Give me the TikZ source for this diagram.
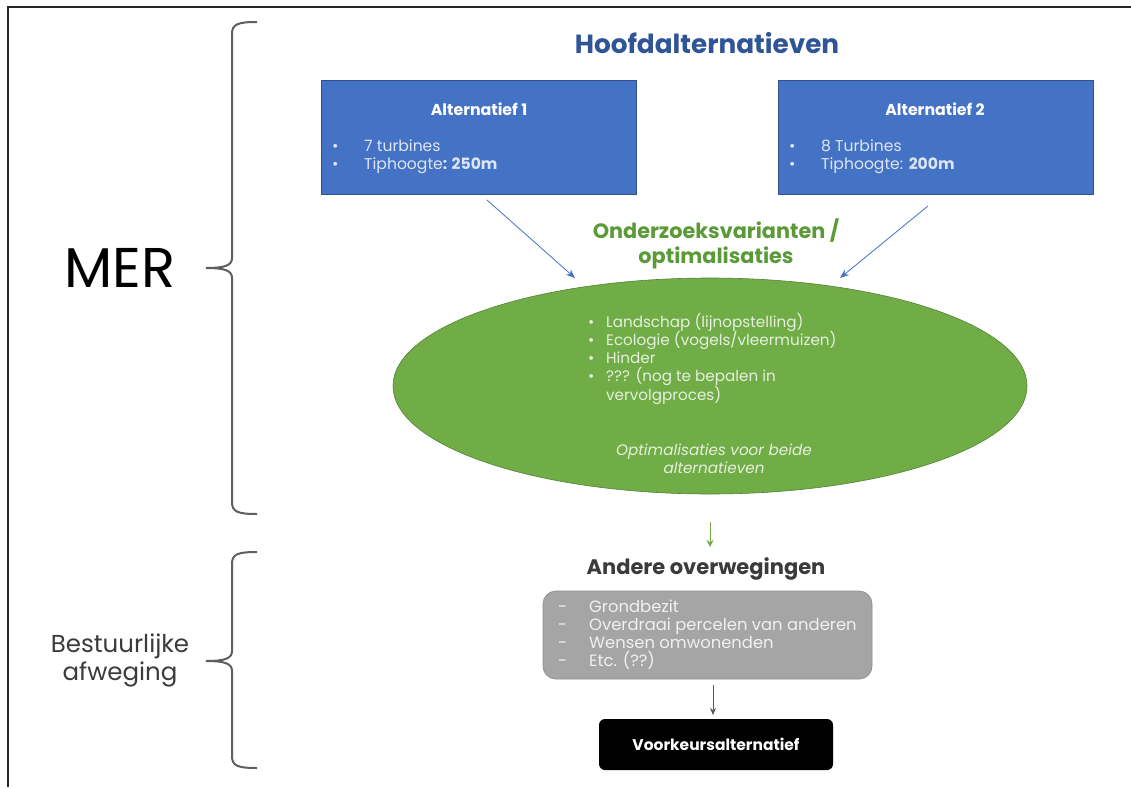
\documentclass[tikz,border=0pt]{standalone}
\usepackage{fontspec}
\setmainfont{Poppins}
\usetikzlibrary{arrows.meta,shapes.geometric}
\definecolor{boxblue}{HTML}{4472C4}
\definecolor{boxblueedge}{HTML}{2F528F}
\definecolor{titleblue}{HTML}{2F5597}
\definecolor{greenfill}{HTML}{70AD47}
\definecolor{greenedge}{HTML}{548235}
\definecolor{greentitle}{HTML}{5A9A37}
\definecolor{grayfill}{HTML}{A5A5A5}
\definecolor{grayedge}{HTML}{8F8F8F}
\definecolor{darktext}{HTML}{3B3B3B}
\definecolor{bracegray}{HTML}{5F5F5F}
\definecolor{bluetext}{HTML}{DDE5F4}
\definecolor{greentext}{HTML}{E6F0DE}
\definecolor{graytext}{HTML}{F0F0F0}
\definecolor{framecol}{HTML}{262626}
\begin{document}
\begin{tikzpicture}[x=1pt,y=-1pt,
  txt/.style={inner sep=0pt, anchor=base west},
  bluebox/.style={draw=boxblueedge, line width=0.8pt, fill=boxblue},
  boxtitle/.style={inner sep=0pt, text=white, font=\fontsize{15.8}{18}\selectfont\bfseries},
  bluetxt/.style={txt, text=bluetext, font=\fontsize{15.6}{18}\selectfont},
  greentxt/.style={txt, text=greentext, font=\fontsize{15.2}{18}\selectfont},
  graytxt/.style={txt, text=graytext, font=\fontsize{16.4}{18}\selectfont},
  brace/.style={draw=bracegray, line width=2pt},
  conn/.style={line width=0.8pt, -{Stealth[length=9pt,width=7pt]}}
]
\useasboundingbox (0,0) rectangle (1131,787);
\fill[white] (0,0) rectangle (1131,787);
% frame
\draw[framecol, line width=2.5pt] (8,787) -- (8,7) -- (1131,7);

% braces
\draw[brace] (257,22) .. controls (238,22) and (232,24) .. (232,34) -- (232,258)
  .. controls (232,265) and (226,268) .. (206,268)
  .. controls (226,268) and (232,271) .. (232,278) -- (232,502)
  .. controls (232,512) and (238,514) .. (257,514);
\draw[brace] (257,552) .. controls (238,552) and (232,554) .. (232,564) -- (232,651)
  .. controls (232,658) and (226,661) .. (206,661)
  .. controls (226,661) and (232,664) .. (232,671) -- (232,756)
  .. controls (232,766) and (238,768) .. (257,768);

\node[inner sep=0pt, font=\fontsize{56}{60}\selectfont] (mer) at (120,268) {MER};
\node[inner sep=0pt, text=darktext, align=center, font=\fontsize{24.5}{28}\selectfont] (best) at (120,660) {Bestuurlijke\\afweging};

% title
\node[inner sep=0pt, text=titleblue, font=\fontsize{26.3}{28}\selectfont\bfseries] (hoofd) at (707,43) {Hoofdalternatieven};

% alternatief 1
\node[bluebox, minimum width=315pt, minimum height=114pt, inner sep=0pt] (alt1) at (478.5,137) {};
\node[boxtitle] (alt1t) at (479,109) {Alternatief 1};
\node[bluetxt] (a1d1) at (332,151) {•};
\node[bluetxt] (a1l1) at (364,151) {7 turbines};
\node[bluetxt] (a1d2) at (332,169) {•};
\node[bluetxt] (a1l2) at (364,169) {Tiphoogte\textbf{: 250m}};

% alternatief 2
\node[bluebox, minimum width=315pt, minimum height=114pt, inner sep=0pt] (alt2) at (935.5,137) {};
\node[boxtitle] (alt2t) at (935,109) {Alternatief 2};
\node[bluetxt] (a2d1) at (789,151) {•};
\node[bluetxt] (a2l1) at (821,151) {8 Turbines};
\node[bluetxt] (a2d2) at (789,169) {•};
\node[bluetxt] (a2l2) at (821,169) {Tiphoogte: \textbf{200m}};

% onderzoeksvarianten
\node[inner sep=0pt, text=greentitle, align=center, font=\fontsize{20.8}{25}\selectfont\bfseries] (onder) at (716,244) {Onderzoeksvarianten /\\optimalisaties};

% ellipse
\node[ellipse, fill=greenfill, draw=greenedge, line width=0.6pt, minimum width=634pt, minimum height=216pt, inner sep=0pt] (ell) at (710,386) {};
\node[greentxt] (e1d) at (588,327) {•};
\node[greentxt] (e1) at (606,327) {Landschap (lijnopstelling)};
\node[greentxt] (e2d) at (588,345) {•};
\node[greentxt] (e2) at (606,345) {Ecologie (vogels/vleermuizen)};
\node[greentxt] (e3d) at (588,363) {•};
\node[greentxt] (e3) at (606,363) {Hinder};
\node[greentxt] (e4d) at (588,381) {•};
\node[greentxt] (e4) at (606,381) {??? (nog te bepalen in};
\node[greentxt] (e5) at (606,400) {vervolgproces)};
\node[inner sep=0pt, text=greentext, align=center, font=\fontsize{15.2}{18}\selectfont\itshape] (eopt) at (714,459) {Optimalisaties voor beide\\alternatieven};

% arrows into ellipse
\coordinate (s1) at (487,200);
\coordinate (t1) at (575,278);
\coordinate (s2) at (928,206);
\coordinate (t2) at (840,278);
\draw[conn, draw=boxblue] (s1) -- (t1);
\draw[conn, draw=boxblue] (s2) -- (t2);

% green arrow
\coordinate (g1) at (710,522);
\coordinate (g2) at (710,547);
\draw[line width=0.8pt, draw=greenfill, -{Stealth[length=7pt,width=7pt]}] (g1) -- (g2);

% andere overwegingen
\node[inner sep=0pt, text=darktext, font=\fontsize{21}{24}\selectfont\bfseries] (andere) at (706,569) {Andere overwegingen};
\node[draw=grayedge, fill=grayfill, rounded corners=13pt, line width=0.8pt, minimum width=329pt, minimum height=88pt, inner sep=0pt] (gray) at (707.5,635) {};
\node[graytxt] (g1d) at (558,612) {-};
\node[graytxt] (gl1) at (589,612) {Grondbezit};
\node[graytxt] (g2d) at (558,630) {-};
\node[graytxt] (gl2) at (589,630) {Overdraai percelen van anderen};
\node[graytxt] (g3d) at (558,648) {-};
\node[graytxt] (gl3) at (589,648) {Wensen omwonenden};
\node[graytxt] (g4d) at (558,666) {-};
\node[graytxt] (gl4) at (589,666) {Etc. (??)};

% gray arrow
\coordinate (h1) at (713,685);
\coordinate (h2) at (713,715);
\draw[line width=0.8pt, draw=gray!70!black, -{Stealth[length=7pt,width=6pt]}] (h1) -- (h2);

% voorkeursalternatief
\node[fill=black, rounded corners=6pt, minimum width=234pt, minimum height=51pt, inner sep=0pt] (voork) at (716,744.5) {};
\node[inner sep=0pt, text=white, font=\fontsize{15.5}{17}\selectfont\bfseries] (voorkt) at (716,744) {Voorkeursalternatief};
\end{tikzpicture}
\end{document}
